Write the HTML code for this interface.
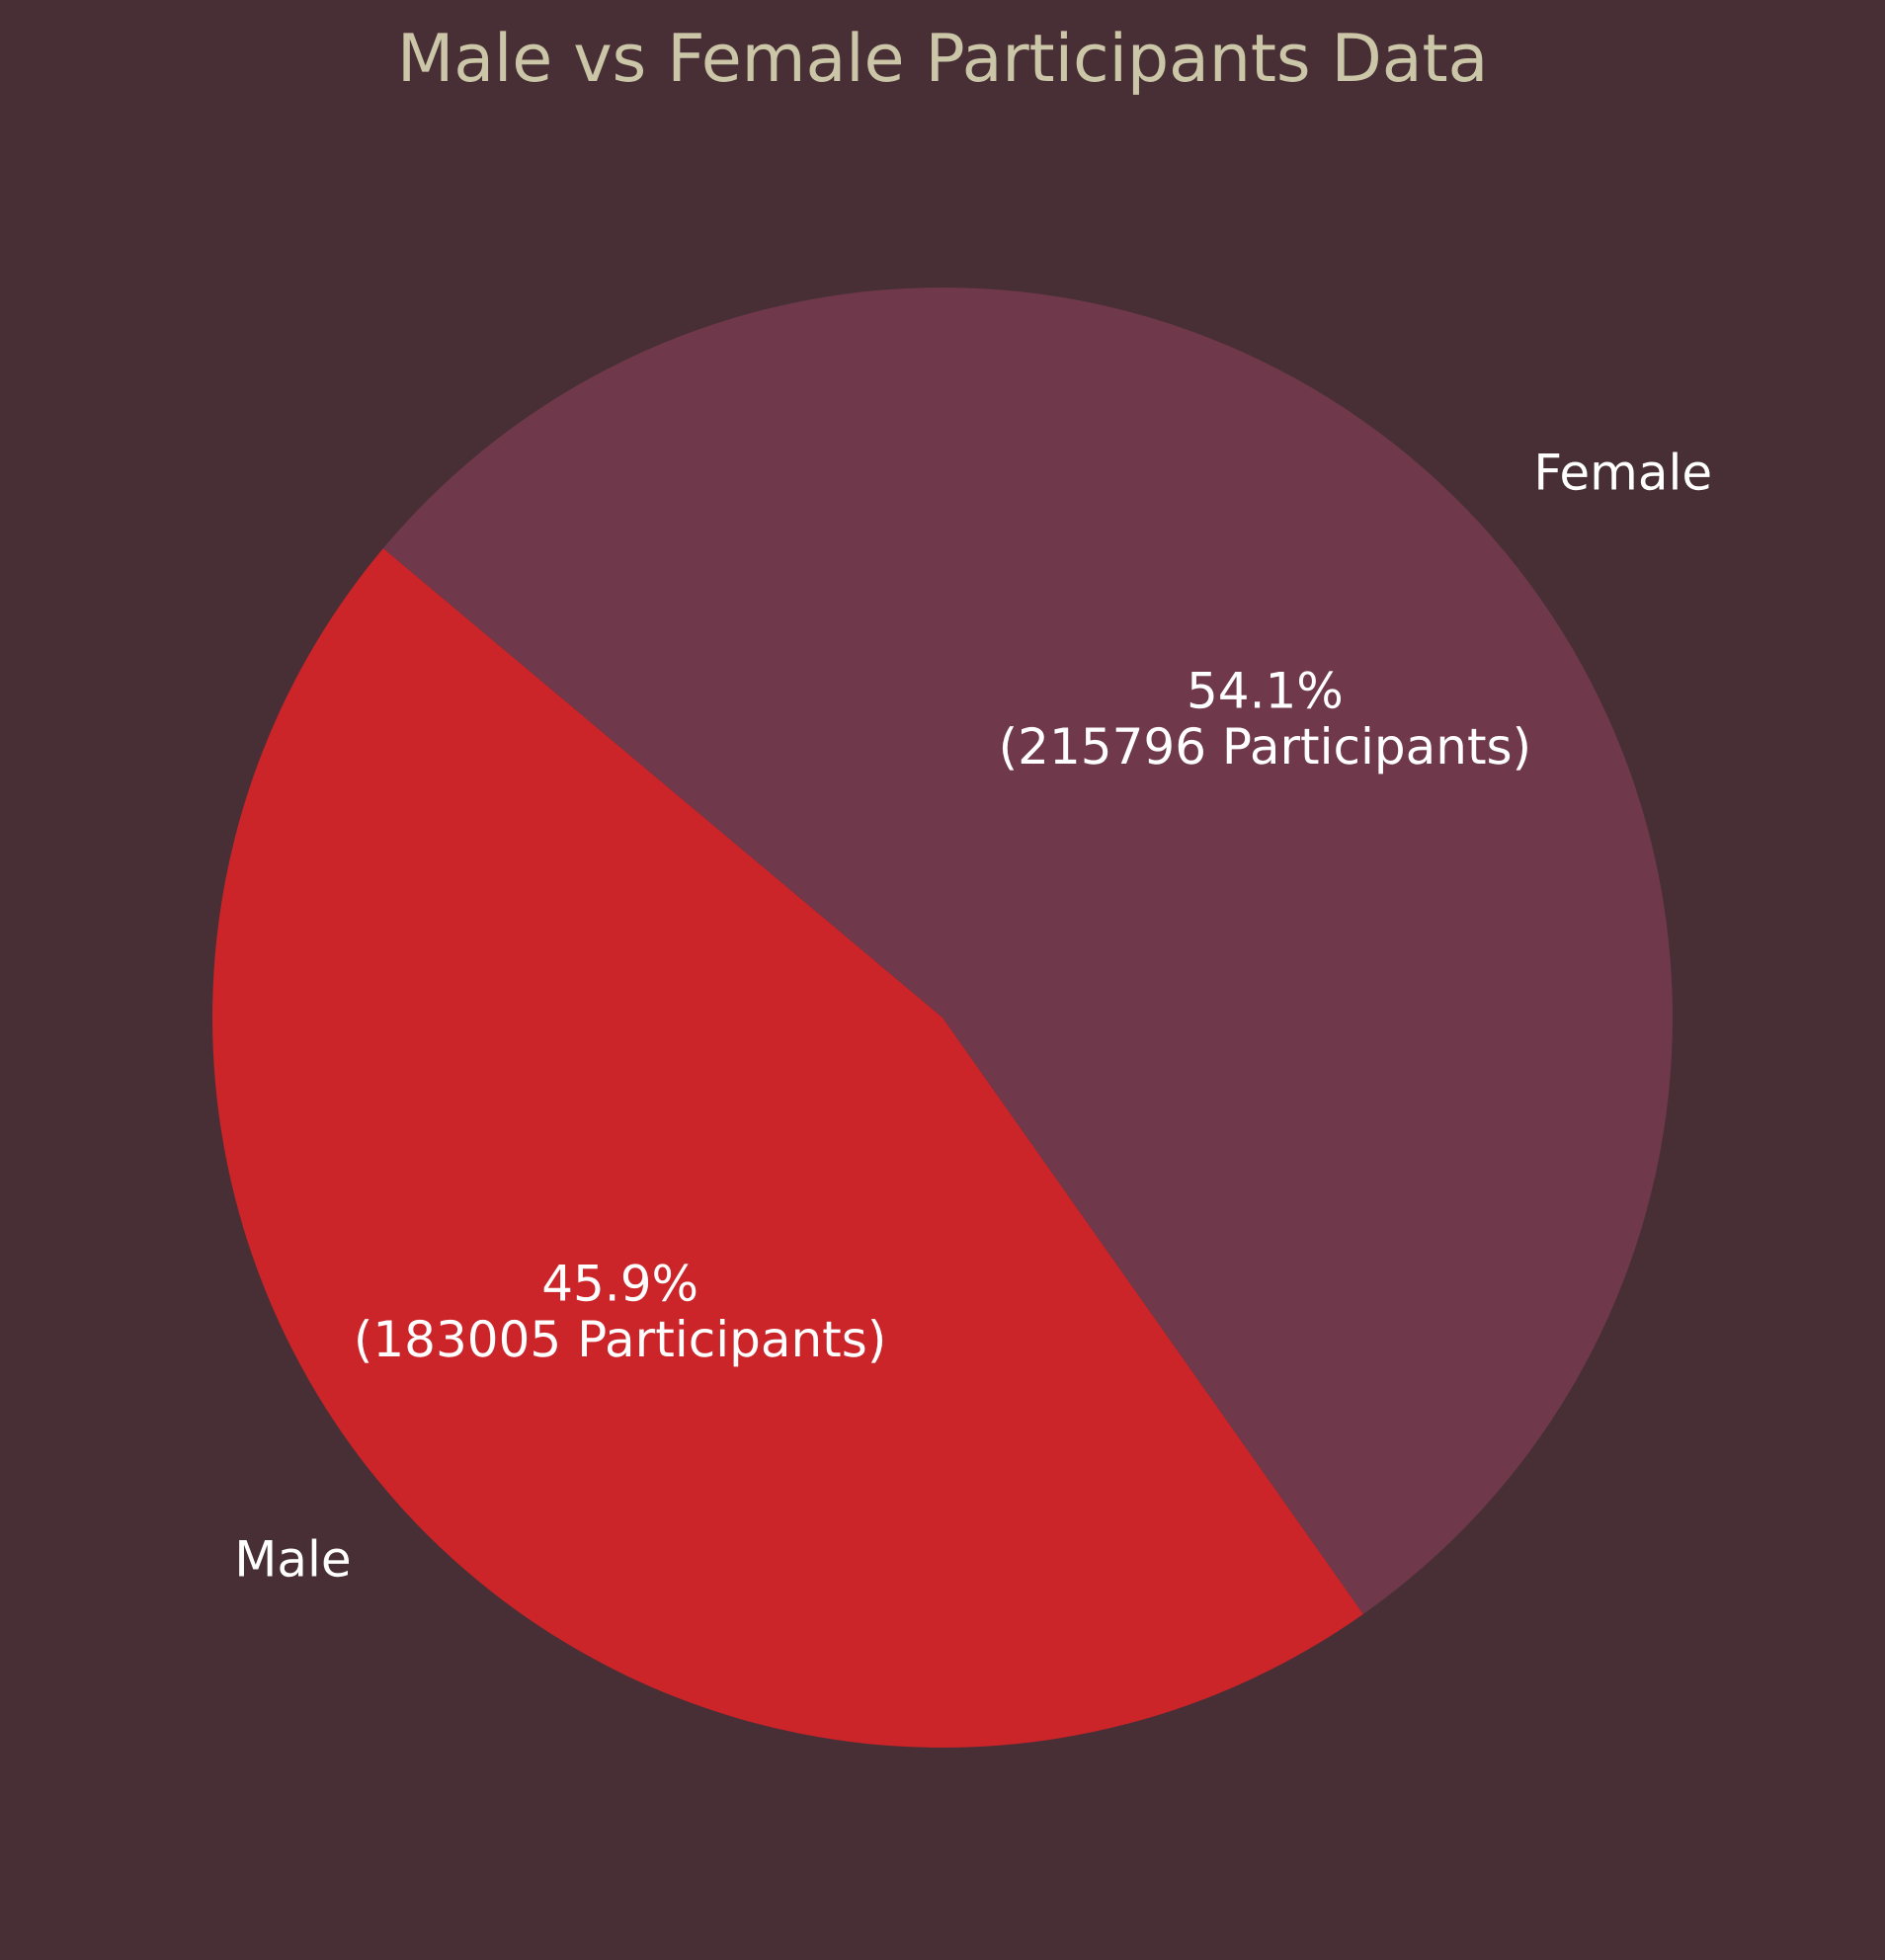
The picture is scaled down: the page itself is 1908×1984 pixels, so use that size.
<!DOCTYPE html>
<html lang="en">
<head>
<meta charset="utf-8">
<title>Male vs Female Participants Data</title>
<style>
  html, body { margin: 0; padding: 0; background: #472f35; }
  svg { display: block; }
  text { font-family: "DejaVu Sans", "Liberation Sans", sans-serif; text-rendering: geometricPrecision; }
</style>
</head>
<body>
<svg id="chart" xmlns="http://www.w3.org/2000/svg" width="1908" height="1984" viewBox="0 0 1908 1984">
  <rect x="0" y="0" width="1908" height="1984" fill="#472f35"></rect>
  <text x="954" y="82" text-anchor="middle" font-size="66.67" letter-spacing="-0.13" fill="#ccc6a8">Male vs Female Participants Data</text>
  <g id="slices"></g>
  <g id="labels"></g>
</svg>
<script>
const categories = ['Male', 'Female'];
const participants = [183005, 215796];
const sliceColors = ['#cb2429', '#6f384b'];
const startAngle = 140;

const cx = 954;
const cy = 1030;
const radius = 739;
const SVG_NS = 'http://www.w3.org/2000/svg';
const total = participants.reduce(function (a, b) { return a + b; }, 0);

function angleScale(value) {
  return value / total * 360;
}
function px(deg, r) {
  return cx + r * Math.cos(deg * Math.PI / 180);
}
function py(deg, r) {
  return cy - r * Math.sin(deg * Math.PI / 180);
}
function addText(parent, x, y, anchor, content) {
  const t = document.createElementNS(SVG_NS, 'text');
  t.setAttribute('x', x.toFixed(2));
  t.setAttribute('y', y.toFixed(2));
  t.setAttribute('text-anchor', anchor);
  t.setAttribute('font-size', '50');
  t.setAttribute('fill', '#ffffff');
  t.textContent = content;
  parent.appendChild(t);
  return t;
}

const sliceLayer = document.getElementById('slices');
const labelLayer = document.getElementById('labels');
let current = startAngle;

categories.forEach(function (name, i) {
  const key = name.toLowerCase();
  const sweep = angleScale(participants[i]);
  const end = current + sweep;
  const mid = current + sweep / 2;
  const large = sweep > 180 ? 1 : 0;

  const path = document.createElementNS(SVG_NS, 'path');
  path.setAttribute('d',
    'M ' + cx + ' ' + cy +
    ' L ' + px(current, radius).toFixed(2) + ' ' + py(current, radius).toFixed(2) +
    ' A ' + radius + ' ' + radius + ' 0 ' + large + ' 0 ' +
    px(end, radius).toFixed(2) + ' ' + py(end, radius).toFixed(2) + ' Z');
  path.setAttribute('fill', sliceColors[i]);
  
  
  sliceLayer.appendChild(path);

  const right = Math.cos(mid * Math.PI / 180) >= 0;
  const catLabel = addText(labelLayer, px(mid, radius * 1.1), py(mid, radius * 1.1) + 15.5, right ? 'start' : 'end', name);
  
  

  const pct = (participants[i] / total * 100).toFixed(1) + '%';
  const pctLabel = addText(labelLayer, px(mid, radius * 0.6), py(mid, radius * 0.6) - 13.5, 'middle', pct);
  
  

  const countLabel = addText(labelLayer, px(mid, radius * 0.6), py(mid, radius * 0.6) + 43, 'middle', '(' + participants[i] + ' Participants)');
  
  

  current = end;
});
</script>
</body>
</html>
